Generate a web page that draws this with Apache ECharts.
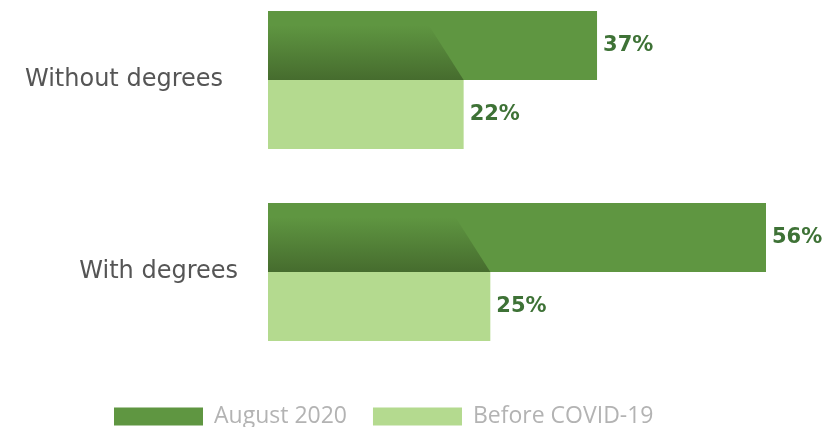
<!DOCTYPE html>
<html>
<head>
<meta charset="utf-8">
<script src="https://cdn.jsdelivr.net/npm/echarts@6/dist/echarts.min.js"></script>
<style>
  html, body { margin: 0; padding: 0; background: #fff; }
  #chart { width: 825px; height: 427px; }
</style>
</head>
<body>
<div id="chart"></div>
<script>
// 数据
var categories = ['Without degrees', 'With degrees'];
var august2020 = [37, 56];
var beforeCovid = [22, 25];
var seriesNames = ['August 2020', 'Before COVID-19'];

var BAR_H = 69;

var chart = echarts.init(document.getElementById('chart'));

// 深色条左侧的阴影
function renderShade(params, api) {
  var cat = api.value(0);
  var val = api.value(1);
  var start = api.coord([0, cat]);
  var end = api.coord([val, cat]);
  var bottom = end[1];
  var top = bottom - BAR_H + 14;
  return {
    type: 'polygon',
    shape: {
      points: [
        [start[0], top],
        [end[0] - 35, top],
        [end[0], bottom],
        [start[0], bottom]
      ]
    },
    style: {
      fill: new echarts.graphic.LinearGradient(0, 0, 0, 1, [
        { offset: 0, color: 'rgba(70,108,46,0)' },
        { offset: 1, color: 'rgba(70,108,46,1)' }
      ])
    },
    silent: true
  };
}

var labelStyle = {
  show: true,
  position: 'right',
  distance: 6,
  formatter: '{c}%',
  color: '#3e7236',
  fontFamily: 'DejaVu Sans',
  fontWeight: 'bold',
  fontSize: 21
};

var option = {
  animation: false,
  grid: { left: 268, right: 59, top: 80, height: 192 },
  legend: {
    data: seriesNames,
    left: 109,
    top: 400,
    itemWidth: 89,
    itemHeight: 18,
    itemGap: 26,
    icon: 'rect',
    formatter: function (name) { return '{t|' + name + '}'; },
    textStyle: {
      color: '#b3b3b3', fontFamily: 'Open Sans', fontSize: 23,
      rich: { t: { padding: [0, 0, 0, 6], color: '#b3b3b3', fontFamily: 'Open Sans', fontSize: 23 } }
    }
  },
  xAxis: {
    type: 'value',
    min: 0,
    max: 56,
    show: false
  },
  yAxis: {
    type: 'category',
    inverse: true,
    boundaryGap: false,
    data: categories,
    axisLine: { show: false },
    axisTick: { show: false },
    axisLabel: {
      margin: 30,
      fontFamily: 'DejaVu Sans',
      fontSize: 24,
      color: '#555555',
      formatter: function (v) {
        return v === 'Without degrees' ? '{a|' + v + '}' : v;
      },
      rich: { a: { padding: [0, 15, 0, 0], fontFamily: 'DejaVu Sans', fontSize: 24, color: '#555555' } }
    },
    splitLine: { show: false }
  },
  series: [
    {
      name: seriesNames[0],
      type: 'bar',
      data: august2020,
      barWidth: BAR_H,
      barGap: '0%',
      itemStyle: { color: '#5f9641' },
      label: labelStyle
    },
    {
      name: seriesNames[1],
      type: 'bar',
      data: beforeCovid,
      barWidth: BAR_H,
      barGap: '0%',
      itemStyle: { color: '#b4da8f' },
      label: labelStyle
    },
    {
      type: 'custom',
      renderItem: renderShade,
      encode: { x: 1, y: 0 },
      data: beforeCovid.map(function (v, i) { return [i, v]; }),
      z: 3
    }
  ]
};

chart.setOption(option);
</script>
</body>
</html>
